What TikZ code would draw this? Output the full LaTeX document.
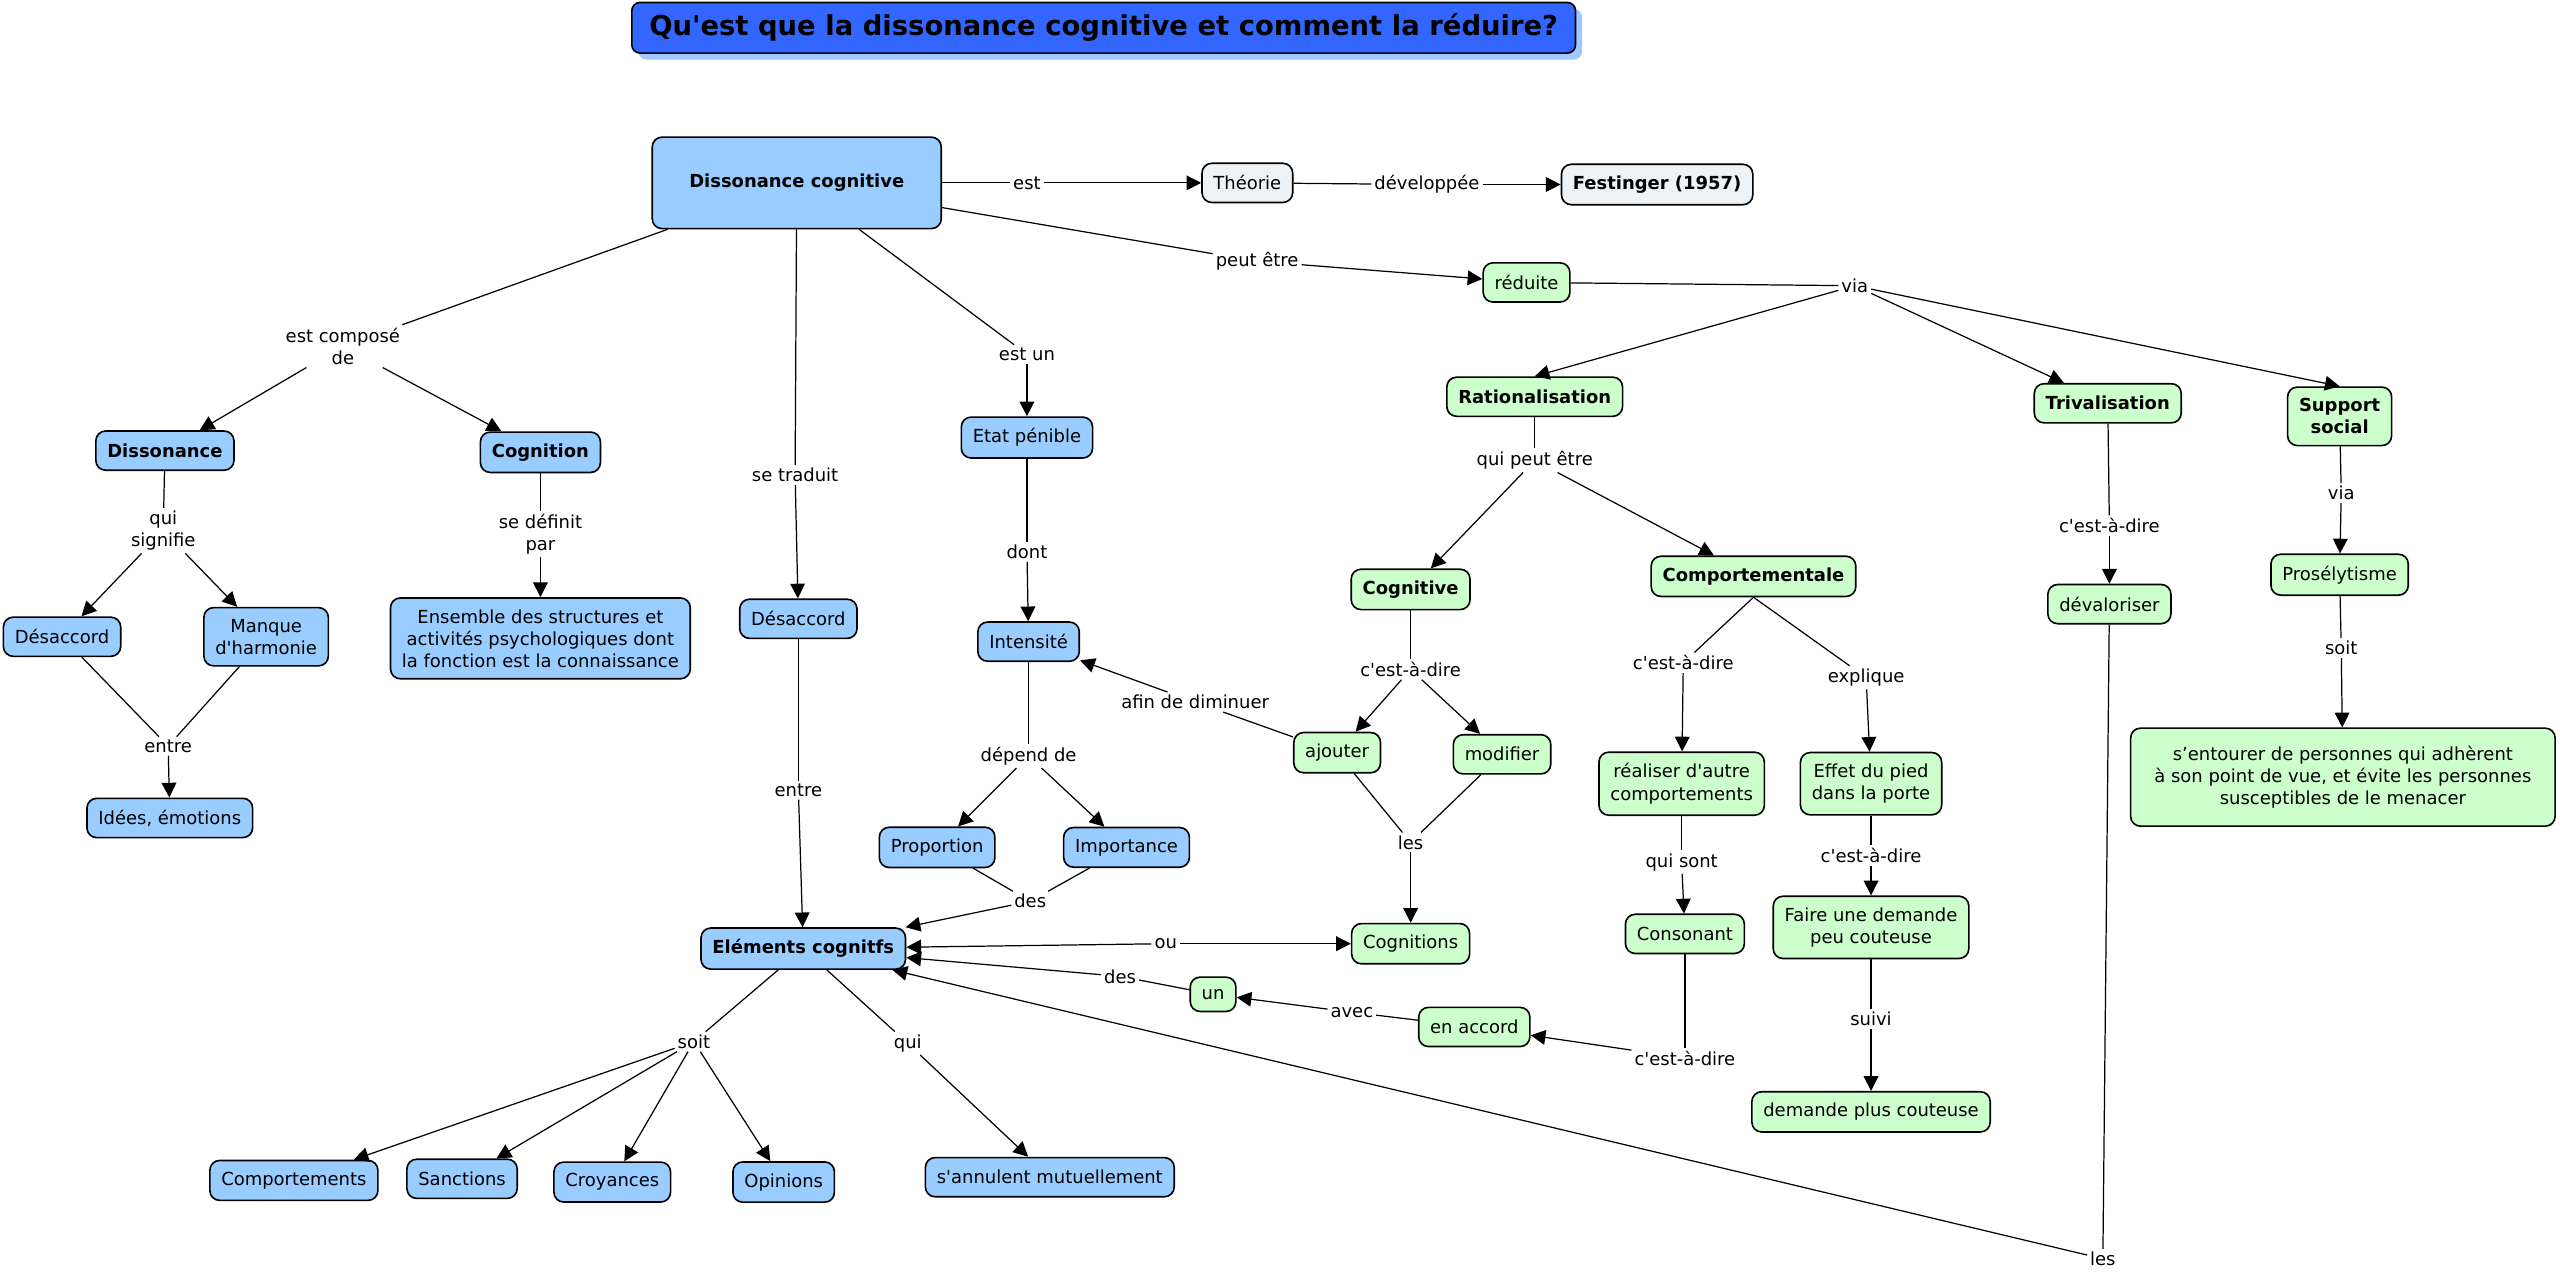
\documentclass[tikz,border=0pt]{standalone}
\usepackage{fontspec}
\newfontfamily\cmapfont{DejaVu Sans}
\usetikzlibrary{arrows.meta,shadows}

\definecolor{cbleu}{RGB}{153,204,255}
\definecolor{cvert}{RGB}{204,255,204}
\definecolor{cgris}{RGB}{236,242,246}
\definecolor{ctitre}{RGB}{51,102,255}
\definecolor{combre}{RGB}{160,200,255}

\tikzset{
  concept/.style={draw, line width=1pt, rounded corners=6pt, align=center,
    inner xsep=7pt, inner ysep=7pt, minimum height=24pt,
    font=\cmapfont\fontsize{11}{13.5}\selectfont},
  bleu/.style={concept, fill=cbleu},
  vert/.style={concept, fill=cvert},
  gris/.style={concept, fill=cgris},
  gras/.style={font=\cmapfont\fontsize{11}{13.5}\selectfont\bfseries},
  lien/.style={inner sep=1.5pt, align=center, font=\cmapfont\fontsize{11}{13.5}\selectfont},
  fl/.style={-{Triangle[length=9pt,width=9pt]}},
}

\begin{document}
\begin{tikzpicture}[x=1pt, y=-1pt, line width=0.75pt]
\useasboundingbox (0,0) rectangle (1568,780);

% Title
\node[draw, line width=1pt, fill=ctitre, rounded corners=5pt, minimum width=578pt, minimum height=31pt,
  font=\cmapfont\fontsize{16.8}{19}\selectfont\bfseries,
  drop shadow={shadow xshift=4pt, shadow yshift=-4pt, fill=combre, opacity=1}]
  (titre) at (676,17) {Qu'est que la dissonance cognitive et comment la réduire?};

% Blue concepts
\node[bleu, gras, minimum width=177pt, minimum height=56pt] (dc) at (488,112) {Dissonance cognitive};
\node[bleu, gras] (dissonance) at (101,276) {Dissonance};
\node[bleu, gras] (cognition) at (331,277) {Cognition};
\node[bleu] (desaccordA) at (38,390) {Désaccord};
\node[bleu] (manque) at (163,390) {Manque\\d'harmonie};
\node[bleu] (idees) at (104,501) {Idées, émotions};
\node[bleu] (ensemble) at (331,391) {Ensemble des structures et\\activités psychologiques dont\\la fonction est la connaissance};
\node[bleu] (desaccordB) at (489,379) {Désaccord};
\node[bleu] (etat) at (629,268) {Etat pénible};
\node[bleu] (intensite) at (630,393) {Intensité};
\node[bleu] (proportion) at (574,519) {Proportion};
\node[bleu] (importance) at (690,519) {Importance};
\node[bleu, gras] (elements) at (492,581) {Eléments cognitfs};
\node[bleu] (comportements) at (180,723) {Comportements};
\node[bleu] (sanctions) at (283,722) {Sanctions};
\node[bleu] (croyances) at (375,724) {Croyances};
\node[bleu] (opinions) at (480,724) {Opinions};
\node[bleu] (annulent) at (643,721) {s'annulent mutuellement};

% Grey concepts
\node[gris] (theorie) at (764,112) {Théorie};
\node[gris, gras] (festinger) at (1015,113) {Festinger (1957)};

% Green concepts
\node[vert] (reduite) at (935,173) {réduite};
\node[vert, gras] (ration) at (940,243) {Rationalisation};
\node[vert, gras] (trival) at (1291,247) {Trivalisation};
\node[vert, gras] (support) at (1433,255) {Support\\social};
\node[vert, gras] (cognitive) at (864,361) {Cognitive};
\node[vert, gras] (comport) at (1074,353) {Comportementale};
\node[vert] (ajouter) at (819,461) {ajouter};
\node[vert] (modifier) at (920,462) {modifier};
\node[vert] (cognitions) at (864,578) {Cognitions};
\node[vert, minimum height=21pt] (un) at (743,609) {un};
\node[vert] (accord) at (903,629) {en accord};
\node[vert] (realiser) at (1030,480) {réaliser d'autre\\comportements};
\node[vert] (effet) at (1146,480) {Effet du pied\\dans la porte};
\node[vert] (consonant) at (1032,572) {Consonant};
\node[vert] (faire) at (1146,568) {Faire une demande\\peu couteuse};
\node[vert] (plus) at (1146,681) {demande plus couteuse};
\node[vert] (devalo) at (1292,370) {dévaloriser};
\node[vert] (proselyt) at (1433,352) {Prosélytisme};
\node[vert, minimum width=260pt, minimum height=60pt] (entourer) at (1435,476) {s’entourer de personnes qui adhèrent\\à son point de vue, et évite les personnes\\susceptibles de le menacer};

% Linking phrases
\node[lien] (est) at (629,112) {est};
\node[lien] (developpee) at (874,113) {développée};
\node[lien] (peut) at (770,160) {peut être};
\node[lien] (via) at (1136,175) {via};
\node[lien] (compose) at (210,212) {est composé\\de};
\node[lien] (traduit) at (487,291) {se traduit};
\node[lien] (estun) at (629,217) {est un};
\node[lien] (signifie) at (100,325) {qui\\signifie};
\node[lien] (definit) at (331,327) {se définit\\par};
\node[lien] (entreA) at (103,457) {entre};
\node[lien] (dont) at (629,338) {dont};
\node[lien] (depend) at (630,463) {dépend de};
\node[lien] (desA) at (631,552) {des};
\node[lien] (entreB) at (489,484) {entre};
\node[lien] (afin) at (732,430) {afin de diminuer};
\node[lien] (qpe) at (940,282) {qui peut être};
\node[lien] (cadA) at (864,410) {c'est-à-dire};
\node[lien] (lesA) at (864,516) {les};
\node[lien] (ou) at (714,578) {ou};
\node[lien] (desB) at (686,598) {des};
\node[lien] (avec) at (828,620) {avec};
\node[lien] (cadB) at (1032,648) {c'est-à-dire};
\node[lien] (lesB) at (1288,771) {les};
\node[lien] (soitA) at (425,638) {soit};
\node[lien] (qui) at (556,639) {qui};
\node[lien] (cadC) at (1031,406) {c'est-à-dire};
\node[lien] (explique) at (1143,415) {explique};
\node[lien] (sont) at (1030,528) {qui sont};
\node[lien] (cadD) at (1146,524) {c'est-à-dire};
\node[lien] (suivi) at (1146,624) {suivi};
\node[lien] (cadE) at (1292,322) {c'est-à-dire};
\node[lien] (viaB) at (1434,302) {via};
\node[lien] (soitB) at (1434,397) {soit};

% Connectors
\draw (dc) -- (est); \draw[fl] (est) -- (theorie);
\draw (theorie) -- (developpee); \draw[fl] (developpee) -- (festinger);
\draw (dc) -- (peut); \draw[fl] (peut) -- (reduite);
\draw (reduite) -- (via);
\draw[fl] (via) -- (ration.north);
\draw[fl] (via) -- (trival);
\draw[fl] (via) -- (support.north);
\draw (dc) -- (compose);
\draw[fl] (compose) -- (dissonance);
\draw[fl] (compose) -- (cognition);
\draw (dc) -- (traduit); \draw[fl] (traduit) -- (desaccordB);
\draw (dc) -- (estun); \draw[fl] (estun) -- (etat);
\draw (dissonance) -- (signifie);
\draw[fl] (signifie) -- (desaccordA);
\draw[fl] (signifie) -- (manque);
\draw (cognition) -- (definit); \draw[fl] (definit) -- (ensemble);
\draw (desaccordA) -- (entreA); \draw (manque) -- (entreA);
\draw[fl] (entreA) -- (idees);
\draw (etat) -- (dont); \draw[fl] (dont) -- (intensite);
\draw (intensite) -- (depend);
\draw[fl] (depend) -- (proportion);
\draw[fl] (depend) -- (importance);
\draw (proportion) -- (desA); \draw (importance) -- (desA);
\draw[fl] (desA) -- (elements);
\draw (desaccordB) -- (entreB); \draw[fl] (entreB) -- (elements);
\draw (ajouter) -- (afin); \draw[fl] (afin) -- (intensite);
\draw (ration) -- (qpe);
\draw[fl] (qpe) -- (cognitive);
\draw[fl] (qpe) -- (comport);
\draw (cognitive) -- (cadA);
\draw[fl] (cadA) -- (ajouter);
\draw[fl] (cadA) -- (modifier);
\draw (ajouter) -- (lesA); \draw (modifier) -- (lesA);
\draw[fl] (lesA) -- (cognitions);
\draw[fl] (ou) -- (elements); \draw[fl] (ou) -- (cognitions);
\draw (un) -- (desB); \draw[fl] (desB) -- (elements);
\draw (accord) -- (avec); \draw[fl] (avec) -- (un);
\draw (consonant) -- (cadB); \draw[fl] (cadB) -- (accord);
\draw (devalo) -- (lesB); \draw[fl] (lesB) -- (elements);
\draw (elements) -- (soitA);
\draw[fl] (soitA) -- (comportements);
\draw[fl] (soitA) -- (sanctions);
\draw[fl] (soitA) -- (croyances);
\draw[fl] (soitA) -- (opinions);
\draw (elements) -- (qui); \draw[fl] (qui) -- (annulent);
\draw (comport.south) -- (cadC); \draw[fl] (cadC) -- (realiser);
\draw (comport.south) -- (explique); \draw[fl] (explique) -- (effet);
\draw (realiser) -- (sont); \draw[fl] (sont) -- (consonant);
\draw (effet) -- (cadD); \draw[fl] (cadD) -- (faire);
\draw (faire) -- (suivi); \draw[fl] (suivi) -- (plus);
\draw (trival) -- (cadE); \draw[fl] (cadE) -- (devalo);
\draw (support) -- (viaB); \draw[fl] (viaB) -- (proselyt);
\draw (proselyt) -- (soitB); \draw[fl] (soitB) -- (entourer);
\end{tikzpicture}
\end{document}
